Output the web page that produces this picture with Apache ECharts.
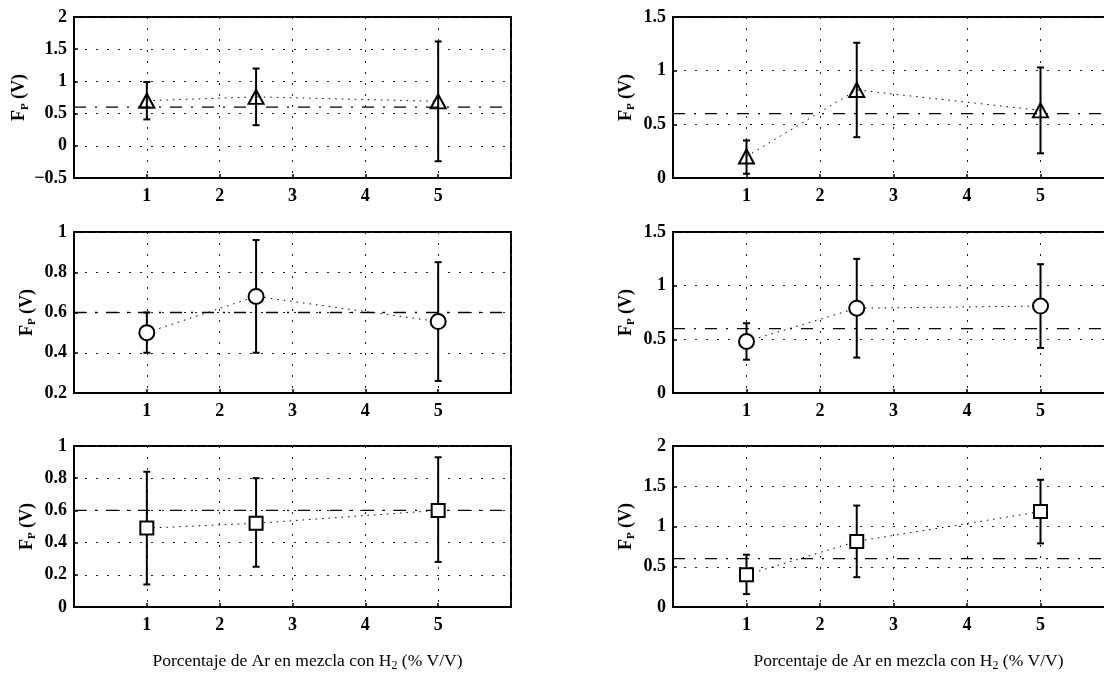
<!DOCTYPE html>
<html>
<head>
<meta charset="utf-8">
<script src="https://cdn.jsdelivr.net/npm/echarts@6/dist/echarts.min.js"></script>
<style>
  html, body { margin: 0; padding: 0; background: #fff; }
  #chart { width: 1104px; height: 681px; }
</style>
</head>
<body>
<div id="chart"></div>
<script>
// x positions: % Ar in H2 mixture (v/v)
const xValues = [1, 2.5, 5];
const xRange = [0, 6];
const refLevel = 0.6;

// left column
const fpTriLeft = [0.70, 0.76, 0.69];
const errTriLeft = [[0.41, 0.99], [0.32, 1.20], [-0.24, 1.62]];
const fpCircLeft = [0.50, 0.68, 0.555];
const errCircLeft = [[0.40, 0.60], [0.40, 0.96], [0.26, 0.85]];
const fpSqLeft = [0.49, 0.52, 0.60];
const errSqLeft = [[0.14, 0.84], [0.25, 0.80], [0.28, 0.93]];

// right column
const fpTriRight = [0.20, 0.82, 0.63];
const errTriRight = [[0.04, 0.35], [0.38, 1.26], [0.23, 1.03]];
const fpCircRight = [0.48, 0.79, 0.81];
const errCircRight = [[0.31, 0.65], [0.33, 1.25], [0.42, 1.20]];
const fpSqRight = [0.40, 0.815, 1.185];
const errSqRight = [[0.16, 0.65], [0.37, 1.26], [0.79, 1.58]];

// y ranges [min, max, interval] per panel
const yTriLeft = [-0.5, 2, 0.5];
const yCircLeft = [0.2, 1, 0.2];
const ySqLeft = [0, 1, 0.2];
const yTriRight = [0, 1.5, 0.5];
const yCircRight = [0, 1.5, 0.5];
const ySqRight = [0, 2, 0.5];

const panels = [
  { fp: fpTriLeft, err: errTriLeft, y: yTriLeft, sym: 'triangle' },
  { fp: fpCircLeft, err: errCircLeft, y: yCircLeft, sym: 'circle' },
  { fp: fpSqLeft, err: errSqLeft, y: ySqLeft, sym: 'rect' },
  { fp: fpTriRight, err: errTriRight, y: yTriRight, sym: 'triangle' },
  { fp: fpCircRight, err: errCircRight, y: yCircRight, sym: 'circle' },
  { fp: fpSqRight, err: errSqRight, y: ySqRight, sym: 'rect' }
];

const colLeft = [74, 673];
const colWidth = [437, 441];
const rowTop = [17, 232, 446];
const rowHeight = 161;

const serif = '"Liberation Serif", "DejaVu Serif", serif';
const black = '#000';
const dots = [2, 9];

const symbolSize = { triangle: [15, 14], circle: 15, rect: 13 };

function renderErrorBar(params, api) {
  const x = api.value(0);
  const lo = api.coord([x, api.value(1)]);
  const hi = api.coord([x, api.value(2)]);
  const cap = 3.5;
  const style = { stroke: black, lineWidth: 2, fill: null };
  return {
    type: 'group',
    children: [
      { type: 'line', shape: { x1: lo[0], y1: lo[1], x2: hi[0], y2: hi[1] }, style },
      { type: 'line', shape: { x1: hi[0] - cap, y1: hi[1], x2: hi[0] + cap, y2: hi[1] }, style },
      { type: 'line', shape: { x1: lo[0] - cap, y1: lo[1], x2: lo[0] + cap, y2: lo[1] }, style }
    ]
  };
}

const xTitle = '{a|Porcentaje de Ar en mezcla con H}{s|2}{a| (% V/V)}';
const yTitle = '{b|F}{s|P}{b| (V)}';

const grid = [], xAxis = [], yAxis = [], series = [];

panels.forEach((p, i) => {
  const col = i < 3 ? 0 : 1;
  const row = i % 3;
  grid.push({
    left: colLeft[col],
    top: rowTop[row],
    width: colWidth[col],
    height: rowHeight,
    outerBoundsMode: 'none',
    show: true,
    borderColor: black,
    borderWidth: 2,
    backgroundColor: 'transparent'
  });
  xAxis.push({
    gridIndex: i,
    type: 'value',
    min: xRange[0],
    max: xRange[1],
    interval: 1,
    axisLine: { onZero: false, lineStyle: { color: black, width: 2 } },
    axisTick: { inside: true, length: 4, lineStyle: { color: black, width: 1.5 } },
    axisLabel: {
      color: black,
      fontFamily: serif,
      fontWeight: 'bold',
      fontSize: 18,
      margin: 9,
      formatter: v => (v > xRange[0] && v < xRange[1]) ? String(v) : ''
    },
    splitLine: { show: true, lineStyle: { color: '#222', width: 1, type: dots } },
    name: row === 2 ? xTitle : '',
    nameLocation: 'middle',
    nameGap: 43,
    nameTextStyle: {
      padding: [0, 0, 0, 30],
      rich: {
        a: { fontFamily: serif, fontSize: 17.5, color: black },
        s: { fontFamily: serif, fontSize: 12, color: black, padding: [10, 0, 0, 0] }
      }
    }
  });
  yAxis.push({
    gridIndex: i,
    type: 'value',
    min: p.y[0],
    max: p.y[1],
    interval: p.y[2],
    axisLine: { show: true, onZero: false, lineStyle: { color: black, width: 2 } },
    axisTick: { show: true, inside: true, length: 4, lineStyle: { color: black, width: 1.5 } },
    axisLabel: {
      color: black,
      fontFamily: serif,
      fontWeight: 'bold',
      fontSize: 18,
      margin: 7,
      formatter: v => (v < 0 ? '\u2212' + String(-v) : String(v))
    },
    splitLine: { show: true, lineStyle: { color: '#222', width: 1, type: dots } },
    name: yTitle,
    nameLocation: 'middle',
    nameGap: 36,
    nameTextStyle: {
      rich: {
        b: { fontFamily: serif, fontSize: 18, fontWeight: 'bold', color: black },
        s: { fontFamily: serif, fontSize: 11, fontWeight: 'bold', color: black, padding: [11, 0, 0, 0] }
      }
    }
  });

  // 0.6 V reference level, dash-dot
  series.push({
    type: 'line',
    xAxisIndex: i,
    yAxisIndex: i,
    data: xRange.map(x => [x, refLevel]),
    symbol: 'none',
    silent: true,
    lineStyle: { color: black, width: 1.3, type: [12, 9, 2, 9] },
    z: 2
  });

  // error bars
  series.push({
    type: 'custom',
    xAxisIndex: i,
    yAxisIndex: i,
    data: xValues.map((x, k) => [x, p.err[k][0], p.err[k][1]]),
    encode: { x: 0, y: [1, 2] },
    renderItem: renderErrorBar,
    z: 3
  });

  // mean values joined by dotted line
  series.push({
    type: 'line',
    xAxisIndex: i,
    yAxisIndex: i,
    data: xValues.map((x, k) => [x, p.fp[k]]),
    symbol: p.sym,
    symbolSize: symbolSize[p.sym],
    showAllSymbol: true,
    itemStyle: {
      color: p.sym === 'triangle' ? 'rgba(255,255,255,0)' : '#fff',
      borderColor: black,
      borderWidth: 2
    },
    lineStyle: { color: black, width: 1, type: [1.5, 5] },
    z: 4
  });
});

const chart = echarts.init(document.getElementById('chart'));
chart.setOption({
  animation: false,
  backgroundColor: '#fff',
  grid,
  xAxis,
  yAxis,
  series
});
</script>
</body>
</html>
